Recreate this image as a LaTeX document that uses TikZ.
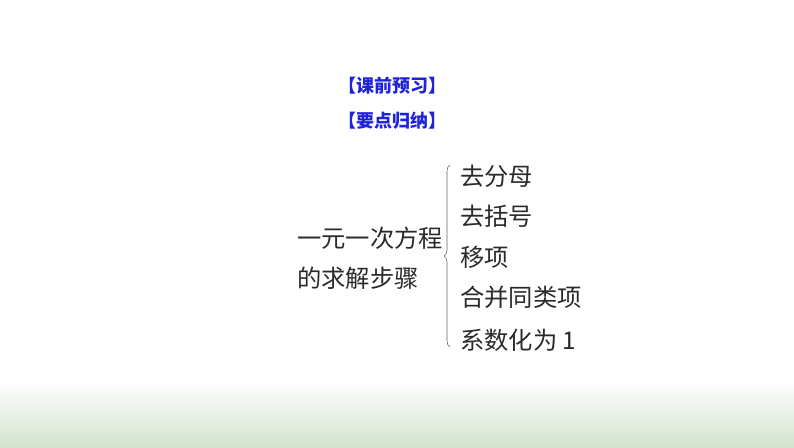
\documentclass[tikz,border=0pt]{standalone}
\usepackage{fontspec}
\newfontfamily\cjk{Noto Sans CJK SC}
\usetikzlibrary{decorations.pathreplacing}
\definecolor{titleblue}{HTML}{1E22D8}
\definecolor{txt}{HTML}{2A2A2A}
\definecolor{bgreen}{HTML}{D3E4CE}
\begin{document}
\begin{tikzpicture}[x=1pt,y=1pt,
  title/.style={font=\cjk\bfseries\fontsize{18}{18}\selectfont, text=titleblue, inner sep=0pt},
  body/.style={font=\cjk\fontsize{24.3}{24.3}\selectfont, text=txt, inner sep=0pt, anchor=west},
  bracestyle/.style={draw=black!60, line width=0.6pt, decorate, decoration={brace, amplitude=6pt}}]
\useasboundingbox (0,0) rectangle (794,447);
\shade[top color=white, bottom color=bgreen] (0,0) rectangle (794,67);
\node[title] (t1) at (392,361) {【课前预习】};
\node[title] (t2) at (392,326) {【要点归纳】};
\node[body] (l1) at (297,209) {一元一次方程};
\node[body] (l2) at (297,169) {的求解步骤};
\coordinate (bb) at (450,100);
\coordinate (bt) at (450,282);
\draw[bracestyle] (bb) -- (bt);
\node[body] (s1) at (460,271) {去分母};
\node[body] (s2) at (460,231) {去括号};
\node[body] (s3) at (460,190) {移项};
\node[body] (s4) at (460,150) {合并同类项};
\node[body] (s5) at (460,107) {系数化为 1};
\end{tikzpicture}
\end{document}
